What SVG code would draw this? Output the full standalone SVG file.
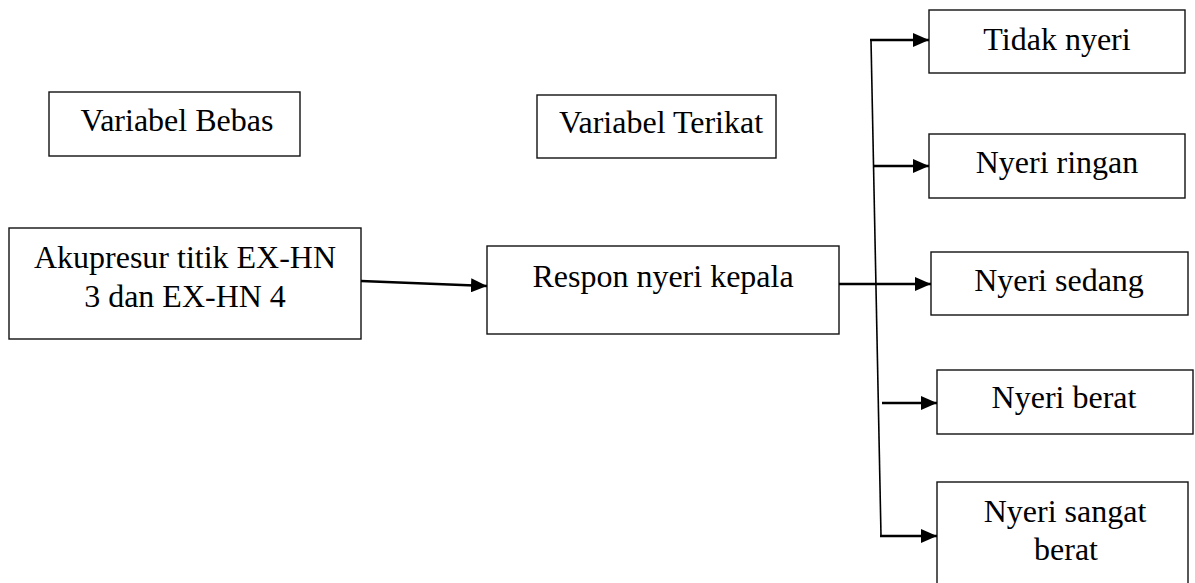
<svg xmlns="http://www.w3.org/2000/svg" width="1195" height="583" viewBox="0 0 1195 583">
  <style>
    .box { fill: #ffffff; stroke: #111111; stroke-width: 1.4; }
    .wire { fill: none; stroke: #000000; stroke-width: 2.5; }
    .trunk { fill: none; stroke: #000000; stroke-width: 1.6; }
  </style>
  <defs>
    <marker id="arrow" viewBox="0 0 16 14" refX="16" refY="7" markerWidth="16" markerHeight="14" markerUnits="userSpaceOnUse" orient="auto">
      <path d="M0,0 L16,7 L0,14 Z" fill="#000000"/>
    </marker>
  </defs>
  <rect width="1195" height="583" fill="#ffffff"/>

  <g font-family="Liberation Serif, Times New Roman, DejaVu Serif, serif" font-size="32" fill="#000000" text-anchor="middle">
    <!-- Section headings -->
    <g id="variabel-bebas">
      <rect class="box" x="49" y="92" width="251" height="64"/>
      <text x="177" y="131">Variabel Bebas</text>
    </g>
    <g id="variabel-terikat">
      <rect class="box" x="537" y="95" width="239" height="63"/>
      <text x="661" y="133">Variabel Terikat</text>
    </g>

    <!-- Independent variable -->
    <g id="akupresur">
      <rect class="box" x="9" y="228" width="352" height="111"/>
      <text x="185" y="268">Akupresur titik EX-HN</text>
      <text x="185" y="307">3 dan EX-HN 4</text>
    </g>

    <!-- Dependent variable -->
    <g id="respon">
      <rect class="box" x="487" y="246" width="352" height="88"/>
      <text x="663" y="287">Respon nyeri kepala</text>
    </g>

    <!-- Pain categories -->
    <g id="tidak-nyeri">
      <rect class="box" x="929" y="10" width="256" height="63"/>
      <text x="1057" y="50">Tidak nyeri</text>
    </g>
    <g id="nyeri-ringan">
      <rect class="box" x="929" y="134" width="256" height="64"/>
      <text x="1057" y="173">Nyeri ringan</text>
    </g>
    <g id="nyeri-sedang">
      <rect class="box" x="931" y="252" width="257" height="63"/>
      <text x="1059" y="291">Nyeri sedang</text>
    </g>
    <g id="nyeri-berat">
      <rect class="box" x="937" y="370" width="256" height="64"/>
      <text x="1064" y="408">Nyeri berat</text>
    </g>
    <g id="nyeri-sangat-berat">
      <rect class="box" x="937" y="482" width="251" height="110"/>
      <text x="1065" y="522">Nyeri sangat</text>
      <text x="1066" y="560">berat</text>
    </g>
  </g>

  <!-- Connectors -->
  <g id="connectors">
    <line class="wire" x1="361" y1="281" x2="487" y2="286" marker-end="url(#arrow)"/>
    <line class="wire" x1="839" y1="284" x2="931" y2="284" marker-end="url(#arrow)"/>
    <line class="trunk" x1="871" y1="40" x2="881" y2="536"/>
    <line class="wire" x1="870" y1="40" x2="929" y2="40" marker-end="url(#arrow)"/>
    <line class="wire" x1="873" y1="166" x2="929" y2="166" marker-end="url(#arrow)"/>
    <line class="wire" x1="882" y1="403" x2="937" y2="403" marker-end="url(#arrow)"/>
    <line class="wire" x1="880" y1="536" x2="937" y2="536" marker-end="url(#arrow)"/>
  </g>
</svg>
